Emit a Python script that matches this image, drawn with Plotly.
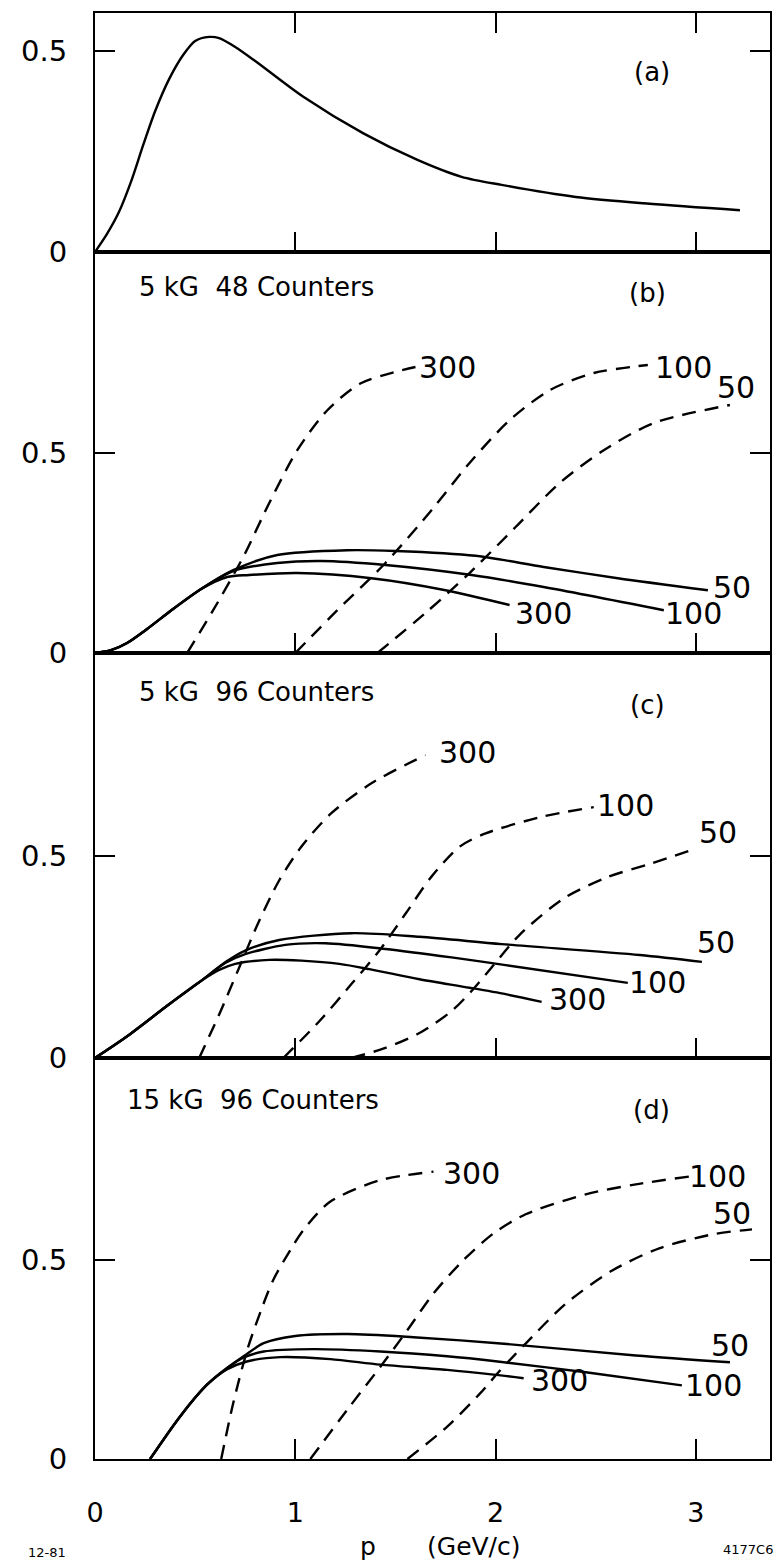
import plotly.graph_objects as go

# ---------------- data (p in GeV/c) ----------------
# panel (a)
a_p = [0, 0.06, 0.12, 0.18, 0.24, 0.30, 0.37, 0.44, 0.50, 0.57, 0.62, 0.70, 0.80, 1.04, 1.34, 1.61, 1.83, 2.03, 2.40, 2.77, 3.22]
a_y = [0, 0.045, 0.10, 0.175, 0.265, 0.35, 0.43, 0.49, 0.525, 0.535, 0.532, 0.51, 0.475, 0.386, 0.295, 0.229, 0.187, 0.167, 0.137, 0.12, 0.104]

# panel (b) 5 kG 48 counters
b50_p = [0, 0.08, 0.16, 0.26, 0.39, 0.53, 0.69, 0.91, 1.26, 1.50, 1.90, 2.24, 2.61, 3.06]
b50_y = [0, 0.007, 0.025, 0.06, 0.11, 0.16, 0.207, 0.245, 0.257, 0.255, 0.243, 0.215, 0.187, 0.157]
b100_p = [0, 0.08, 0.16, 0.26, 0.39, 0.53, 0.69, 0.91, 1.13, 1.45, 1.88, 2.24, 2.84]
b100_y = [0, 0.007, 0.025, 0.06, 0.11, 0.16, 0.205, 0.225, 0.23, 0.22, 0.195, 0.165, 0.107]
b300_p = [0, 0.08, 0.16, 0.26, 0.39, 0.53, 0.66, 0.77, 1.01, 1.38, 1.75, 2.07]
b300_y = [0, 0.007, 0.025, 0.06, 0.11, 0.16, 0.19, 0.195, 0.2, 0.187, 0.157, 0.12]
b300d_p = [0.46, 0.59, 0.74, 0.87, 1.01, 1.16, 1.33, 1.60]
b300d_y = [0, 0.107, 0.24, 0.375, 0.507, 0.607, 0.675, 0.715]
b100d_p = [1.0, 1.21, 1.45, 1.68, 1.87, 2.07, 2.27, 2.49, 2.76]
b100d_y = [0, 0.107, 0.225, 0.357, 0.475, 0.582, 0.657, 0.70, 0.72]
b50d_p = [1.41, 1.65, 1.87, 2.10, 2.32, 2.54, 2.79, 3.17]
b50d_y = [0, 0.10, 0.2, 0.315, 0.425, 0.507, 0.575, 0.62]

# panel (c) 5 kG 96 counters
c50_p = [0, 0.15, 0.37, 0.53, 0.65, 0.75, 0.92, 1.28, 1.62, 2.03, 2.72, 3.03]
c50_y = [0, 0.05, 0.133, 0.191, 0.237, 0.266, 0.292, 0.309, 0.30, 0.282, 0.255, 0.238]
c100_p = [0, 0.15, 0.37, 0.53, 0.65, 0.75, 0.95, 1.15, 1.45, 1.78, 2.05, 2.66]
c100_y = [0, 0.05, 0.133, 0.191, 0.235, 0.257, 0.28, 0.284, 0.27, 0.249, 0.23, 0.186]
c300_p = [0, 0.15, 0.37, 0.53, 0.62, 0.70, 0.87, 1.03, 1.22, 1.37, 1.62, 1.87, 2.05, 2.23]
c300_y = [0, 0.05, 0.133, 0.191, 0.218, 0.233, 0.243, 0.241, 0.233, 0.22, 0.195, 0.174, 0.158, 0.139]
c300d_p = [0.52, 0.62, 0.72, 0.82, 0.92, 1.03, 1.18, 1.38, 1.65]
c300d_y = [0, 0.108, 0.224, 0.34, 0.44, 0.523, 0.606, 0.68, 0.75]
c100d_p = [0.94, 1.12, 1.28, 1.42, 1.55, 1.68, 1.82, 1.95, 2.23, 2.49]
c100d_y = [0, 0.091, 0.183, 0.266, 0.357, 0.449, 0.523, 0.556, 0.597, 0.621]
c50d_p = [1.28, 1.45, 1.62, 1.78, 1.88, 1.98, 2.12, 2.34, 2.56, 2.78, 2.98]
c50d_y = [0, 0.025, 0.062, 0.116, 0.166, 0.224, 0.305, 0.395, 0.448, 0.482, 0.515]

# panel (d) 15 kG 96 counters
d50_p = [0.275, 0.425, 0.558, 0.658, 0.742, 0.842, 1.0, 1.26, 1.59, 2.01, 2.70, 3.17]
d50_y = [0, 0.107, 0.186, 0.228, 0.258, 0.291, 0.309, 0.314, 0.306, 0.291, 0.26, 0.243]
d100_p = [0.275, 0.425, 0.558, 0.658, 0.742, 0.842, 1.09, 1.425, 1.758, 2.01, 2.45, 2.93]
d100_y = [0, 0.107, 0.186, 0.228, 0.255, 0.27, 0.276, 0.27, 0.258, 0.245, 0.218, 0.185]
d300_p = [0.275, 0.425, 0.558, 0.658, 0.758, 0.925, 1.175, 1.425, 1.758, 1.99, 2.14]
d300_y = [0, 0.107, 0.186, 0.225, 0.245, 0.256, 0.251, 0.237, 0.224, 0.212, 0.203]
d300d_p = [0.63, 0.69, 0.76, 0.83, 0.89, 0.975, 1.04, 1.17, 1.42, 1.69]
d300d_y = [0, 0.14, 0.274, 0.375, 0.45, 0.525, 0.575, 0.645, 0.70, 0.722]
d100d_p = [1.075, 1.26, 1.425, 1.56, 1.69, 1.84, 1.99, 2.15, 2.45, 2.70, 2.97]
d100d_y = [0, 0.124, 0.232, 0.324, 0.416, 0.5, 0.567, 0.615, 0.665, 0.69, 0.71]
d50d_p = [1.56, 1.76, 1.925, 2.025, 2.15, 2.35, 2.58, 2.82, 3.09, 3.28]
d50d_y = [0, 0.082, 0.166, 0.224, 0.29, 0.39, 0.473, 0.53, 0.565, 0.577]

x_ticks = [0, 1, 2, 3]
y_ticks = [0, 0.5]
y_ticktext = ["0", "0.5"]

FONT = "DejaVu Sans"
fig = go.Figure()


def add(xs, ys, ax, dashed=False):
    fig.add_trace(go.Scatter(
        x=xs, y=ys, xaxis="x" + ax, yaxis="y" + ax, mode="lines",
        line=dict(color="black", width=2.4, shape="spline", smoothing=0.8,
                  dash="14px,9px" if dashed else "solid"),
        hoverinfo="skip", showlegend=False))


add(a_p, a_y, "")
for xs, ys in [(b50_p, b50_y), (b100_p, b100_y), (b300_p, b300_y)]:
    add(xs, ys, "2")
for xs, ys in [(b300d_p, b300d_y), (b100d_p, b100d_y), (b50d_p, b50d_y)]:
    add(xs, ys, "2", True)
for xs, ys in [(c50_p, c50_y), (c100_p, c100_y), (c300_p, c300_y)]:
    add(xs, ys, "3")
for xs, ys in [(c300d_p, c300d_y), (c100d_p, c100d_y), (c50d_p, c50d_y)]:
    add(xs, ys, "3", True)
for xs, ys in [(d50_p, d50_y), (d100_p, d100_y), (d300_p, d300_y)]:
    add(xs, ys, "4")
for xs, ys in [(d300d_p, d300d_y), (d100d_p, d100d_y), (d50d_p, d50d_y)]:
    add(xs, ys, "4", True)

domains = [[0.8347, 1.0], [0.5574, 0.8347], [0.2773, 0.5574], [0.0, 0.2773]]
yranges = [[0, 0.5945], [0, 1.0025], [0, 1.0025], [0, 1.0075]]
names = ["", "2", "3", "4"]

layout = dict(
    width=777, height=1563,
    margin=dict(l=95, r=5, t=13, b=104),
    paper_bgcolor="white", plot_bgcolor="white",
    font=dict(family=FONT, color="black", size=26),
    showlegend=False,
)
for i, nm in enumerate(names):
    bottom = (i == 3)
    layout["xaxis" + nm] = dict(
        domain=[0, 1], range=[0, 3.37], anchor="y" + nm,
        tickvals=x_ticks if bottom else [1, 2, 3],
        ticktext=[str(v) for v in x_ticks] if bottom else None,
        showticklabels=bottom, ticks="inside", ticklen=20, tickwidth=2,
        tickcolor="black", showline=True, linecolor="black", linewidth=2,
        mirror="ticks" if i == 0 else True,
        showgrid=False, zeroline=False,
        tickfont=dict(size=27, family=FONT), ticklabelstandoff=29,
    )
    layout["yaxis" + nm] = dict(
        domain=domains[i], range=yranges[i], anchor="x" + nm,
        tickvals=y_ticks, ticktext=y_ticktext,
        ticks="inside", ticklen=20, tickwidth=2, tickcolor="black",
        showline=True, linecolor="black", linewidth=2, mirror="ticks",
        showgrid=False, zeroline=False,
        tickfont=dict(size=29, family=FONT), ticklabelstandoff=20,
    )
fig.update_layout(**layout)

ann = []


def lab(text, x, y, ax, size=30, xanchor="center"):
    ann.append(dict(text=text, x=x, y=y, xref="x" + ax, yref="y" + ax,
                    showarrow=False, xanchor=xanchor, yanchor="middle",
                    font=dict(size=size, family=FONT, color="black")))


def note(text, x, y, size, xanchor="center"):
    ann.append(dict(text=text, x=x, y=y, xref="paper", yref="paper",
                    showarrow=False, xanchor=xanchor, yanchor="middle",
                    font=dict(size=size, family=FONT, color="black")))


lab("(a)", 2.78, 0.448, "", 26)

lab("5 kG\u00a0\u00a048 Counters", 0.21, 0.915, "2", 26, "left")
lab("(b)", 2.76, 0.90, "2", 26)
lab("300", 1.76, 0.715, "2")
lab("100", 2.94, 0.715, "2")
lab("50", 3.20, 0.665, "2")
lab("50", 3.18, 0.165, "2")
lab("100", 2.99, 0.10, "2")
lab("300", 2.24, 0.10, "2")

lab("5 kG\u00a0\u00a096 Counters", 0.21, 0.906, "3", 26, "left")
lab("(c)", 2.76, 0.874, "3", 26)
lab("300", 1.86, 0.757, "3")
lab("100", 2.65, 0.626, "3")
lab("50", 3.11, 0.557, "3")
lab("50", 3.10, 0.285, "3")
lab("100", 2.81, 0.186, "3")
lab("300", 2.41, 0.144, "3")

lab("15 kG\u00a0\u00a096 Counters", 0.15, 0.9025, "4", 26, "left")
lab("(d)", 2.78, 0.878, "4", 26)
lab("300", 1.88, 0.718, "4")
lab("100", 3.11, 0.71, "4")
lab("50", 3.18, 0.618, "4")
lab("50", 3.17, 0.285, "4")
lab("100", 3.09, 0.185, "4")
lab("300", 2.32, 0.198, "4")

note("p", 0.405, -0.0607, 25)
note("(GeV/c)", 0.561, -0.0607, 25)
note("12-81", -0.071, -0.0645, 13)
note("4177C6", 1.0074, -0.0625, 13, "right")

fig.update_layout(annotations=ann)
fig.write_html("out.html")
